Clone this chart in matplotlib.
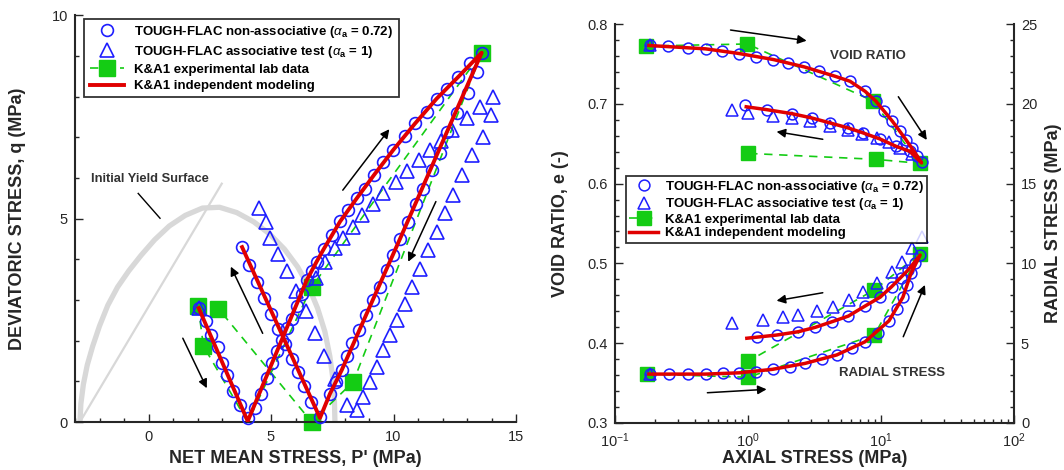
import matplotlib
matplotlib.use("Agg")
import matplotlib.pyplot as plt
from matplotlib.ticker import MultipleLocator, FixedLocator, LogLocator, NullFormatter

plt.rcParams["font.family"] = ["Liberation Sans", "DejaVu Sans"]
plt.rcParams["mathtext.fontset"] = "custom"
plt.rcParams["mathtext.rm"] = "Liberation Sans"
plt.rcParams["mathtext.it"] = "Liberation Sans:italic"
plt.rcParams["mathtext.bf"] = "Liberation Sans:bold"

BLUE = "#1e1eff"
GREEN = "#14cc14"
RED = "#e00000"
GRAY = "#d8d8d8"
INK = "#262626"

LBL_NONASSOC = r"TOUGH-FLAC non-associative ($\alpha_\mathregular{a}$ = 0.72)"
LBL_ASSOC = r"TOUGH-FLAC associative test ($\alpha_\mathregular{a}$ = 1)"
LBL_EXP = "K&A1 experimental lab data"
LBL_MOD = "K&A1 independent modeling"

# ---------------- left panel: stress path, p' vs q (MPa) ----------------
circ_p = [2.05, 2.35, 2.56, 2.82, 3.01, 3.22, 3.46, 3.73, 4.05,
          4.35, 4.60, 4.82, 5.03, 5.25, 5.44, 5.64, 5.84, 6.05, 6.25, 6.46, 6.66, 6.86,
          7.15, 7.48, 7.82, 8.16, 8.50, 8.84, 9.20, 9.58, 9.99, 10.47, 10.88, 11.35,
          11.76, 12.17, 12.65, 13.12, 13.60,
          13.40, 13.05, 12.58, 12.17, 11.90, 11.56, 11.22, 10.92, 10.60, 10.27, 9.99,
          9.72, 9.45, 9.18, 8.88, 8.60, 8.32, 8.10, 7.89, 7.65, 7.41, 7.00,
          6.62, 6.35, 6.10, 5.85, 5.58, 5.30, 5.02, 4.72, 4.42, 4.12, 3.82]
circ_q = [2.80, 2.49, 2.14, 1.84, 1.44, 1.16, 0.75, 0.42, 0.09,
          0.34, 0.70, 1.07, 1.44, 1.75, 2.02, 2.30, 2.54, 2.85, 3.15, 3.49, 3.72, 3.94,
          4.25, 4.60, 4.93, 5.21, 5.50, 5.74, 6.07, 6.40, 6.69, 7.02, 7.34, 7.63,
          7.95, 8.20, 8.49, 8.82, 9.08,
          8.61, 8.08, 7.59, 7.14, 6.62, 6.20, 5.74, 5.35, 4.92, 4.51, 4.10,
          3.74, 3.33, 3.00, 2.63, 2.26, 1.94, 1.62, 1.28, 0.98, 0.70, 0.13,
          0.50, 0.88, 1.22, 1.55, 1.92, 2.28, 2.65, 3.05, 3.45, 3.86, 4.30]

tri_p = [2.05,
         6.85, 7.19, 7.61, 7.95, 8.33, 8.70, 9.15, 9.58, 10.10, 10.57, 11.05, 11.49,
         11.92, 12.38, 12.98, 13.55, 14.07,
         13.98, 13.65, 13.19, 12.78, 12.44, 12.10, 11.76, 11.42, 11.08, 10.74, 10.47,
         10.13, 9.86, 9.58, 9.31, 9.04, 8.77, 8.50, 8.10,
         7.62, 7.16, 6.79, 6.41, 6.03, 5.66, 5.30, 4.95, 4.78, 4.50]
tri_q = [2.80,
         3.53, 3.94, 4.27, 4.52, 4.80, 5.08, 5.37, 5.64, 5.90, 6.17, 6.44, 6.69,
         6.92, 7.17, 7.48, 7.74, 7.98,
         7.56, 7.00, 6.56, 6.07, 5.58, 5.13, 4.68, 4.23, 3.77, 3.33, 2.91,
         2.50, 2.14, 1.77, 1.36, 0.99, 0.62, 0.29, 0.41,
         1.05, 1.63, 2.20, 2.73, 3.22, 3.72, 4.12, 4.52, 4.92, 5.27]

exp_p = [2.03, 2.24, 4.05, 6.66, 13.60, 8.36, 6.66, 2.85]
exp_q = [2.85, 1.87, 0.00, 3.32, 9.08, 0.99, 0.00, 2.79]
exp_marked = [0, 1, 3, 4, 5, 6, 7]

mod_p = [2.05, 4.05, 6.46, 6.86, 7.15, 7.82, 8.50, 9.20, 9.99, 10.88, 11.76, 12.65, 13.60,
         10.27, 8.88, 7.89, 7.41, 7.00, 3.82]
mod_q = [2.80, 0.02, 3.49, 3.94, 4.25, 4.93, 5.50, 6.07, 6.69, 7.34, 7.95, 8.49, 9.08,
         4.51, 2.63, 1.28, 0.70, 0.10, 4.30]

yield_p = [-2.80, -2.76, -2.66, -2.50, -2.28, -2.00, -1.66, -1.26, -0.80, -0.30, 0.25,
           0.85, 1.50, 2.20, 2.90, 3.60, 4.30, 4.95, 5.55, 6.08, 6.52, 6.90, 7.20,
           7.40, 7.53, 7.59, 7.61]
yield_q = [0.00, 0.45, 0.92, 1.40, 1.86, 2.36, 2.87, 3.32, 3.72, 4.10, 4.48,
           4.82, 5.08, 5.26, 5.28, 5.15, 4.92, 4.62, 4.25, 3.82, 3.35, 2.80, 2.22,
           1.62, 1.05, 0.50, 0.00]
csl_p = [-2.80, 2.99]
csl_q = [0.00, 5.86]

# ---------------- right panel: oedometer-type test ----------------
# void ratio (left axis) vs axial stress (MPa)
void_circ_x = [0.183, 0.252, 0.356, 0.483, 0.634, 0.861, 1.15, 1.55, 2.01, 2.64, 3.44,
               4.51, 5.85, 7.59, 9.17, 10.5, 12.2, 13.9, 15.4, 17.0, 18.8, 20.2,
               16.5, 13.0, 9.82, 7.36, 5.68, 4.14, 3.01, 2.13, 1.38, 0.948]
void_circ_e = [0.7734, 0.7725, 0.7705, 0.7692, 0.7662, 0.7633, 0.7592, 0.7558, 0.7516,
               0.7466, 0.7411, 0.7348, 0.7285, 0.7159, 0.7034, 0.6908, 0.6782, 0.6657,
               0.6552, 0.6448, 0.6343, 0.6270,
               0.6405, 0.6468, 0.6561, 0.6636, 0.6699, 0.6762, 0.6825, 0.6879, 0.6929, 0.6992]
void_tri_x = [0.183, 17.0, 14.0, 11.5, 9.3, 7.2, 5.68, 4.14, 2.92, 2.13, 1.53, 1.00, 0.753]
void_tri_e = [0.7734, 0.637, 0.645, 0.652, 0.657, 0.662, 0.6678, 0.6728, 0.6782, 0.6825,
              0.6845, 0.6888, 0.692]
void_exp_x = [0.171, 0.99, 8.65, 19.6, 9.17, 1.0]
void_exp_e = [0.7727, 0.7753, 0.704, 0.6255, 0.6305, 0.638]
void_mod_x = [0.18, 0.48, 0.86, 1.55, 2.64, 4.51, 5.85, 7.59, 9.17, 12.2, 15.4, 18.8, 20.2,
              16.5, 13.0, 9.82, 7.36, 5.68, 4.14, 3.01, 2.13, 1.38, 0.97]
void_mod_e = [0.7734, 0.7692, 0.7633, 0.7558, 0.7466, 0.7348, 0.7285, 0.7159, 0.7034,
              0.6782, 0.6552, 0.6343, 0.6260,
              0.6405, 0.6468, 0.6561, 0.6636, 0.6699, 0.6762, 0.6825, 0.6879, 0.6929, 0.6965]

# radial stress (right axis, MPa) vs axial stress (MPa)
rad_circ_x = [0.183, 0.256, 0.356, 0.483, 0.645, 0.861, 1.15, 1.53, 2.07, 2.68, 3.58,
              4.64, 6.02, 7.59, 9.55, 11.5, 13.1, 14.6, 15.8, 16.8, 18.0, 19.7,
              16.0, 14.1, 12.0, 9.82, 7.59, 5.68, 4.26, 3.19, 2.39, 1.64, 1.17]
rad_circ_r = [3.05, 3.05, 3.05, 3.05, 3.10, 3.13, 3.20, 3.35, 3.51, 3.72, 3.98,
              4.25, 4.67, 5.08, 5.64, 6.40, 7.11, 7.87, 8.64, 9.37, 10.00, 10.52,
              9.58, 9.06, 8.53, 7.87, 7.32, 6.69, 6.33, 5.98, 5.71, 5.50, 5.36]
rad_tri_x = [0.183, 20.2, 17.0, 14.3, 12.0, 9.29, 7.36, 5.78, 4.34, 3.32, 2.39, 1.82, 1.30, 0.753]
rad_tri_r = [3.05, 11.67, 10.94, 10.10, 9.47, 8.75, 8.22, 7.70, 7.24, 7.03, 6.76, 6.61,
             6.44, 6.24]
rad_exp_x = [0.175, 1.0, 8.9, 19.6, 8.9, 1.0]
rad_exp_r = [3.05, 2.85, 5.50, 10.60, 8.33, 3.85]
rad_mod_x = [0.18, 0.48, 0.86, 1.53, 2.68, 4.64, 7.59, 11.5, 14.6, 16.8, 19.7,
             16.0, 12.0, 9.82, 7.59, 5.68, 4.26, 3.19, 2.39, 1.64, 0.98]
rad_mod_r = [3.05, 3.05, 3.13, 3.35, 3.72, 4.25, 5.08, 6.40, 7.87, 9.37, 10.52,
             9.58, 8.53, 7.87, 7.32, 6.69, 6.33, 5.98, 5.71, 5.50, 5.30]


def style_axis(ax, spines):
    for side in ["top", "right", "left", "bottom"]:
        ax.spines[side].set_visible(side in spines)
        ax.spines[side].set_linewidth(1.5)
        ax.spines[side].set_color(INK)
    ax.tick_params(which="both", direction="in", colors=INK, width=1.0, labelsize=10.5)
    ax.tick_params(which="major", length=6)
    ax.tick_params(which="minor", length=3)


def arrow(ax, start, end):
    ax.annotate("", xy=end, xytext=start,
                arrowprops=dict(arrowstyle="-|>", color="black", lw=1.1,
                                mutation_scale=13, shrinkA=0, shrinkB=0))


fig = plt.figure(figsize=(10.64, 4.70), dpi=100)

# ----- left panel -----
axl = fig.add_axes([75 / 1064, 48 / 470, 441 / 1064, 406.7 / 470])
axl.plot(yield_p, yield_q, color=GRAY, lw=3.8, solid_joinstyle="round",
         solid_capstyle="round", zorder=1)
axl.plot(csl_p, csl_q, color=GRAY, lw=1.6, zorder=1)
h_exp, = axl.plot(exp_p, exp_q, color=GREEN, ls=(0, (5, 4)), lw=1.2, marker="s", ms=11,
                  mfc=GREEN, mec=GREEN, markevery=exp_marked, zorder=2, label=LBL_EXP,
                  clip_on=False)
h_tri, = axl.plot(tri_p, tri_q, ls="none", marker="^", ms=9.5, mfc="none", mec=BLUE,
                  mew=1.2, zorder=3, label=LBL_ASSOC, clip_on=False)
h_circ, = axl.plot(circ_p, circ_q, ls="none", marker="o", ms=8.5, mfc="none", mec=BLUE,
                   mew=1.2, zorder=4, label=LBL_NONASSOC, clip_on=False)
h_mod, = axl.plot(mod_p, mod_q, color=RED, lw=2.8, zorder=5, label=LBL_MOD)

axl.set_xlim(-3, 15)
axl.set_ylim(0, 10)
axl.xaxis.set_major_locator(FixedLocator([0, 5, 10, 15]))
axl.xaxis.set_minor_locator(MultipleLocator(1))
axl.yaxis.set_major_locator(MultipleLocator(5))
axl.yaxis.set_minor_locator(MultipleLocator(1))
style_axis(axl, ["left", "bottom"])
axl.tick_params(axis="x", pad=6)
axl.tick_params(axis="y", pad=5)
axl.set_xlabel("NET MEAN STRESS, P' (MPa)", fontsize=13, fontweight="bold", color=INK)
axl.set_ylabel("DEVIATORIC STRESS, q (MPa)", fontsize=13, fontweight="bold", color=INK)
axl.xaxis.set_label_coords(0.5, -0.068)
axl.yaxis.set_label_coords(-0.11, 0.5)

axl.text(-2.36, 5.97, "Initial Yield Surface", fontsize=9.3, fontweight="bold",
         color="#333333", va="center", ha="left", zorder=6)
axl.plot([-0.42, 0.47], [5.62, 5.01], color="black", lw=1.0, zorder=6)
arrow(axl, (1.40, 2.06), (2.38, 0.83))
arrow(axl, (4.66, 2.18), (3.36, 3.82))
arrow(axl, (7.93, 5.70), (9.83, 7.20))
arrow(axl, (11.73, 5.42), (10.60, 3.94))

legl = axl.legend(handles=[h_circ, h_tri, h_exp, h_mod], loc="upper left",
                  bbox_to_anchor=(0.021, 0.992), borderaxespad=0,
                  prop={"weight": "bold", "size": 9.5}, frameon=True, fancybox=False,
                  edgecolor="black", handlelength=2.6, handletextpad=0.8,
                  borderpad=0.4, labelspacing=0.3)
legl.get_frame().set_linewidth(1.3)
legl.set_zorder(10)

# ----- right panel -----
axr = fig.add_axes([615 / 1064, (470 - 422.7) / 470, 399 / 1064, 398.4 / 470])
axr.set_xscale("log")
axr.set_xlim(0.1, 100)
axr.set_ylim(0.3, 0.8)
ax2 = axr.twinx()
ax2.set_ylim(0, 25)

axr.plot(void_exp_x, void_exp_e, color=GREEN, ls=(0, (5, 4)), lw=1.2, marker="s", ms=10,
         mfc=GREEN, mec=GREEN, zorder=2)
axr.plot(void_tri_x, void_tri_e, ls="none", marker="^", ms=8.5, mfc="none", mec=BLUE,
         mew=1.1, zorder=3)
axr.plot(void_circ_x, void_circ_e, ls="none", marker="o", ms=7.8, mfc="none", mec=BLUE,
         mew=1.1, zorder=4)
axr.plot(void_mod_x, void_mod_e, color=RED, lw=2.5, zorder=5)

r_exp, = ax2.plot(rad_exp_x, rad_exp_r, color=GREEN, ls=(0, (5, 4)), lw=1.2, marker="s",
                  ms=10, mfc=GREEN, mec=GREEN, zorder=2, label=LBL_EXP)
r_tri, = ax2.plot(rad_tri_x, rad_tri_r, ls="none", marker="^", ms=8.5, mfc="none",
                  mec=BLUE, mew=1.1, zorder=3, label=LBL_ASSOC)
r_circ, = ax2.plot(rad_circ_x, rad_circ_r, ls="none", marker="o", ms=7.8, mfc="none",
                   mec=BLUE, mew=1.1, zorder=4, label=LBL_NONASSOC)
r_mod, = ax2.plot(rad_mod_x, rad_mod_r, color=RED, lw=2.5, zorder=5, label=LBL_MOD)

axr.yaxis.set_major_locator(MultipleLocator(0.1))
axr.yaxis.set_minor_locator(MultipleLocator(0.02))
axr.xaxis.set_major_locator(LogLocator(base=10, numticks=10))
axr.xaxis.set_minor_locator(LogLocator(base=10, subs=range(2, 10), numticks=10))
axr.xaxis.set_minor_formatter(NullFormatter())
ax2.yaxis.set_major_locator(MultipleLocator(5))
ax2.yaxis.set_minor_locator(MultipleLocator(1))
style_axis(axr, ["left", "bottom"])
style_axis(ax2, ["right"])
axr.tick_params(axis="x", pad=6)
axr.tick_params(axis="y", pad=5)
ax2.tick_params(axis="y", pad=5)

axr.set_xlabel("AXIAL STRESS (MPa)", fontsize=13, fontweight="bold", color=INK)
axr.set_ylabel("VOID RATIO, e (-)", fontsize=13, fontweight="bold", color=INK)
ax2.set_ylabel("RADIAL STRESS (MPa)", fontsize=13, fontweight="bold", color=INK)
axr.xaxis.set_label_coords(0.5, -0.068)
axr.yaxis.set_label_coords(-0.115, 0.5)
ax2.yaxis.set_label_coords(1.078, 0.5)

axr.text(7.98, 0.760, "VOID RATIO", fontsize=9.5, fontweight="bold", color="#333333",
         ha="center", va="center")
axr.text(12.1, 0.362, "RADIAL STRESS", fontsize=9.5, fontweight="bold", color="#333333",
         ha="center", va="center")
arrow(axr, (0.739, 0.7928), (2.76, 0.7794))
arrow(axr, (13.5, 0.7091), (22.1, 0.6548))
arrow(axr, (3.65, 0.6557), (1.64, 0.6652))
arrow(axr, (3.65, 0.4631), (1.64, 0.4531))
arrow(axr, (0.495, 0.3376), (1.38, 0.3419))
arrow(axr, (14.7, 0.4079), (21.4, 0.4729))

legr = ax2.legend(handles=[r_circ, r_tri, r_exp, r_mod], loc="upper left",
                  bbox_to_anchor=(0.027, 0.62), borderaxespad=0,
                  prop={"weight": "bold", "size": 9.5}, frameon=True, fancybox=False,
                  edgecolor="black", handlelength=2.2, handletextpad=0.5,
                  borderpad=0.25, labelspacing=0.1)
legr.get_frame().set_linewidth(1.3)

fig.savefig("out.png", dpi=100)
